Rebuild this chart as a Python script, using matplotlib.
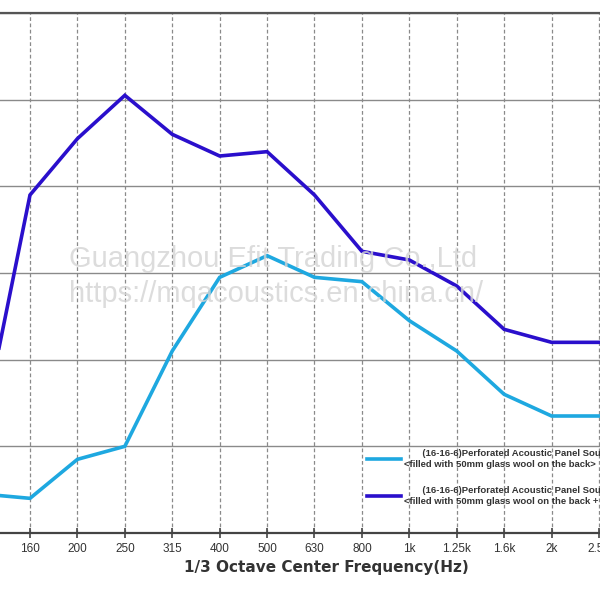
import matplotlib.pyplot as plt

freqs = ["125", "160", "200", "250", "315", "400", "500", "630",
         "800", "1k", "1.25k", "1.6k", "2k", "2.5k"]

panel_glasswool = [0.09, 0.08, 0.17, 0.20, 0.42, 0.59, 0.64, 0.59,
                   0.58, 0.49, 0.42, 0.32, 0.27, 0.27]
panel_glasswool_cavity = [0.24, 0.78, 0.91, 1.01, 0.92, 0.87, 0.88, 0.78,
                          0.65, 0.63, 0.57, 0.47, 0.44, 0.44]

label_1 = ("       (16-16-6)Perforated Acoustic Panel Sound Absorption Coefficient\n"
           "<filled with 50mm glass wool on the back>")
label_2 = ("       (16-16-6)Perforated Acoustic Panel Sound Absorption Coefficient\n"
           "<filled with 50mm glass wool on the back + 50mm cavity>")

x = list(range(len(freqs)))

fig = plt.figure(figsize=(6, 5.92), dpi=100)
ax = fig.add_axes([0, 59 / 592, 1, 520 / 592])

ax.plot(x, panel_glasswool, color="#1ea8e0", linewidth=2.6, label=label_1,
        solid_joinstyle="miter")
ax.plot(x, panel_glasswool_cavity, color="#2a0fcc", linewidth=2.6, label=label_2,
        solid_joinstyle="miter")

ax.set_xticks(x)
ax.set_xticklabels(freqs, fontsize=8.5, color="#333333", family="Liberation Sans")
ax.set_yticks([0, 0.2, 0.4, 0.6, 0.8, 1.0, 1.2])
step = 569 / 12
ax.set_xlim(1 - 30 / step, 1 - 30 / step + 600 / step)
ax.set_ylim(0, 1.2)
ax.tick_params(axis="y", left=False, labelleft=False)
ax.tick_params(axis="x", direction="inout", length=7, width=1.2, color="#444444", pad=4)

ax.grid(axis="y", color="#8a8a8a", linewidth=1.0, linestyle="-")
ax.grid(axis="x", color="#8a8a8a", linewidth=0.9, linestyle=(0, (3, 2)))
ax.set_axisbelow(True)

for s in ["left", "right"]:
    ax.spines[s].set_visible(False)
ax.spines["top"].set_color("#555555")
ax.spines["top"].set_linewidth(1.6)
ax.spines["bottom"].set_color("#444444")
ax.spines["bottom"].set_linewidth(1.6)

ax.set_xlabel("1/3 Octave Center Frequency(Hz)", fontsize=11, fontweight="bold",
              color="#333333")
ax.xaxis.set_label_coords(326 / 600, -0.052)

# watermark
ax.text(0.115, 0.527, "Guangzhou Efit Trading Co.,Ltd", transform=ax.transAxes,
        fontsize=21, color="#d4d4d4", alpha=0.8, family="Liberation Sans",
        va="center", ha="left", zorder=5)
ax.text(0.115, 0.46, "https://mqacoustics.en.china.cn/", transform=ax.transAxes,
        fontsize=21, color="#d4d4d4", alpha=0.8, family="Liberation Sans",
        va="center", ha="left", zorder=5)

leg = ax.legend(loc="upper left", bbox_to_anchor=(0.597, 0.178), frameon=False,
                handlelength=3.6, handletextpad=0.3, labelspacing=1.75,
                prop={"family": "Liberation Sans", "weight": "bold", "size": 6.8})
for t in leg.get_texts():
    t.set_color("#333333")
    t.set_linespacing(1.35)

fig.savefig("out.png", dpi=100)
